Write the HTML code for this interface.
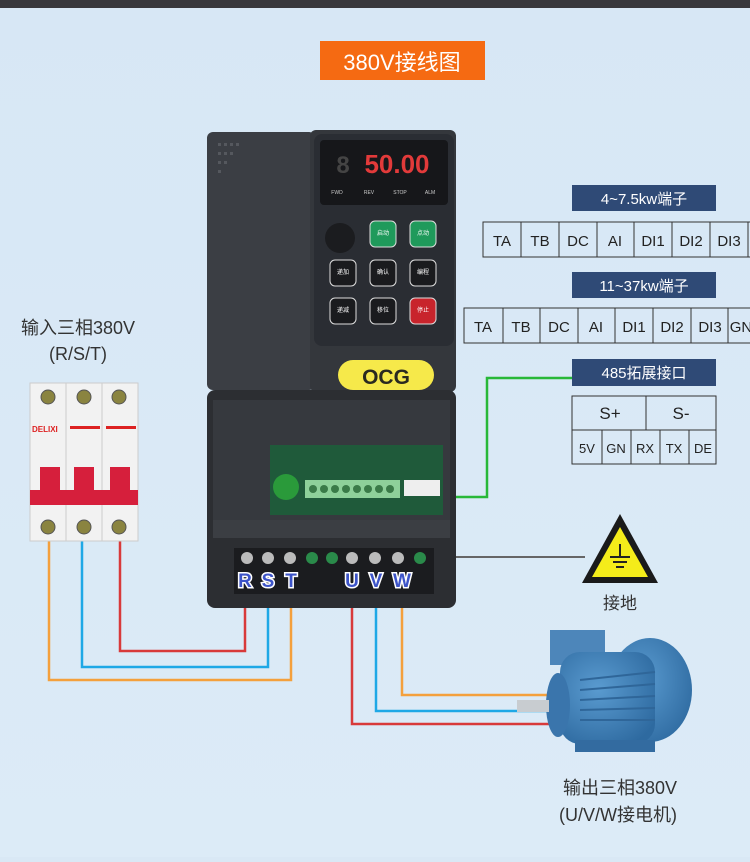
<!DOCTYPE html>
<html><head><meta charset="utf-8"><style>
html,body{margin:0;padding:0;}
body{width:750px;height:857px;background:#d9e8f5;overflow:hidden;font-family:"Liberation Sans","Noto Sans CJK SC",sans-serif;}
svg text{font-family:"Liberation Sans","Noto Sans CJK SC",sans-serif;}
</style></head><body>
<svg width="750" height="857" viewBox="0 0 750 857" xmlns="http://www.w3.org/2000/svg">
<defs>
<linearGradient id="bg" x1="0" y1="0" x2="0" y2="1"><stop offset="0" stop-color="#d7e7f5"/><stop offset="1" stop-color="#dcebf7"/></linearGradient>
<radialGradient id="mot" cx="0.4" cy="0.4" r="0.7"><stop offset="0" stop-color="#5a9bd0"/><stop offset="1" stop-color="#2e6aa0"/></radialGradient>
</defs>
<rect width="750" height="857" fill="url(#bg)"/>
<rect width="750" height="8" fill="#38383c"/>
<rect x="320" y="41" width="165" height="39" fill="#f56a12"/>
<text x="402" y="70" font-size="22" fill="#fff" text-anchor="middle">380V接线图</text>

<g fill="none" stroke-width="2.5">
<polyline points="245,585 245,651 120,651 120,540" stroke="#d83a3a"/>
<polyline points="268,585 268,667 82,667 82,540" stroke="#1ea8e6"/>
<polyline points="291,585 291,680 49,680 49,540" stroke="#f4a03c"/>
<polyline points="352,585 352,724 550,724" stroke="#d83a3a"/>
<polyline points="376,585 376,711 550,711" stroke="#1ea8e6"/>
<polyline points="402,585 402,695 550,695" stroke="#f4a03c"/>
<polyline points="425,557 585,557" stroke="#666" stroke-width="2"/>
<polyline points="440,497 487,497 487,378 572,378" stroke="#28b838"/>
</g>

<rect x="207" y="132" width="108" height="258" rx="6" fill="#3b3e44"/>
<g fill="#55585e">
<rect x="218" y="143" width="3" height="3"/><rect x="224" y="143" width="3" height="3"/><rect x="230" y="143" width="3" height="3"/><rect x="236" y="143" width="3" height="3"/>
<rect x="218" y="152" width="3" height="3"/><rect x="224" y="152" width="3" height="3"/><rect x="230" y="152" width="3" height="3"/>
<rect x="218" y="161" width="3" height="3"/><rect x="224" y="161" width="3" height="3"/><rect x="218" y="170" width="3" height="3"/>
</g>
<rect x="310" y="130" width="146" height="262" rx="6" fill="#34373c"/>
<rect x="314" y="134" width="140" height="212" rx="8" fill="#2a2d33"/>
<rect x="320" y="140" width="128" height="65" rx="4" fill="#16171a"/>
<text x="343" y="173" font-size="24" fill="#444" font-family="Liberation Mono" font-weight="bold" text-anchor="middle">8</text>
<text x="397" y="173" font-size="26" fill="#e23a3a" font-family="Liberation Mono" font-weight="bold" text-anchor="middle">50.00</text>
<g font-size="5" fill="#ccc" text-anchor="middle"><text x="337" y="194">FWD</text><text x="369" y="194">REV</text><text x="400" y="194">STOP</text><text x="430" y="194">ALM</text></g>
<circle cx="340" cy="238" r="15" fill="#1b1c1f"/>
<rect x="370" y="221" width="26" height="26" rx="5" fill="#1f9a5b" stroke="#ddd" stroke-width="1"/>
<rect x="410" y="221" width="26" height="26" rx="5" fill="#1f9a5b" stroke="#ddd" stroke-width="1"/>
<g fill="#1a1b1e" stroke="#ddd" stroke-width="1">
<rect x="330" y="260" width="26" height="26" rx="5"/><rect x="370" y="260" width="26" height="26" rx="5"/><rect x="410" y="260" width="26" height="26" rx="5"/>
<rect x="330" y="298" width="26" height="26" rx="5"/><rect x="370" y="298" width="26" height="26" rx="5"/>
</g>
<rect x="410" y="298" width="26" height="26" rx="5" fill="#c8242c" stroke="#ddd" stroke-width="1"/>
<g font-size="6" fill="#fff" text-anchor="middle">
<text x="383" y="235">启动</text><text x="423" y="235">点动</text>
<text x="343" y="274">递加</text><text x="383" y="274">确认</text><text x="423" y="274">编程</text>
<text x="343" y="312">递减</text><text x="383" y="312">移位</text><text x="423" y="312">停止</text></g>
<rect x="338" y="360" width="96" height="30" rx="15" fill="#f6e94a"/>
<text x="386" y="384" font-size="21" font-family="Liberation Serif" font-weight="bold" fill="#2a2a20" text-anchor="middle">OCG</text>
<rect x="207" y="390" width="249" height="218" rx="8" fill="#2c2e32"/>
<rect x="213" y="400" width="237" height="120" fill="#36393e"/>
<rect x="270" y="445" width="173" height="70" fill="#1f5a3a"/>
<circle cx="286" cy="487" r="13" fill="#2a9a3a"/>
<rect x="305" y="480" width="95" height="18" fill="#8ed09a"/>
<g fill="#3a7a48"><circle cx="313" cy="489" r="4"/><circle cx="324" cy="489" r="4"/><circle cx="335" cy="489" r="4"/><circle cx="346" cy="489" r="4"/><circle cx="357" cy="489" r="4"/><circle cx="368" cy="489" r="4"/><circle cx="379" cy="489" r="4"/><circle cx="390" cy="489" r="4"/></g>
<rect x="404" y="480" width="36" height="16" fill="#eee"/>
<rect x="213" y="520" width="237" height="18" fill="#3b3e43"/>
<rect x="234" y="548" width="200" height="46" fill="#1b1c1f"/>
<g fill="#bbb"><circle cx="247" cy="558" r="6"/><circle cx="268" cy="558" r="6"/><circle cx="290" cy="558" r="6"/><circle cx="352" cy="558" r="6"/><circle cx="375" cy="558" r="6"/><circle cx="398" cy="558" r="6"/></g>
<g fill="#2a8a4a"><circle cx="312" cy="558" r="6"/><circle cx="332" cy="558" r="6"/><circle cx="420" cy="558" r="6"/></g>
<g font-size="19" font-weight="bold" fill="#3d54c8" stroke="#fff" stroke-width="3" paint-order="stroke" text-anchor="middle">
<text x="245" y="587">R</text><text x="268" y="587">S</text><text x="291" y="587">T</text>
<text x="352" y="587">U</text><text x="376" y="587">V</text><text x="402" y="587">W</text></g>

<text x="78" y="334" font-size="18" fill="#333" text-anchor="middle">输入三相380V</text>
<text x="78" y="360" font-size="18" fill="#333" text-anchor="middle">(R/S/T)</text>
<rect x="30" y="383" width="108" height="158" fill="#f2f2f2" stroke="#ccc"/>
<line x1="66" y1="383" x2="66" y2="541" stroke="#ccc"/><line x1="102" y1="383" x2="102" y2="541" stroke="#ccc"/>
<g fill="#8a8440" stroke="#555"><circle cx="48" cy="397" r="7"/><circle cx="84" cy="397" r="7"/><circle cx="119" cy="397" r="7"/><circle cx="48" cy="527" r="7"/><circle cx="84" cy="527" r="7"/><circle cx="119" cy="527" r="7"/></g>
<text x="32" y="432" font-size="8" font-weight="bold" fill="#d22">DELIXI</text>
<rect x="70" y="426" width="30" height="3" fill="#d22"/><rect x="106" y="426" width="30" height="3" fill="#d22"/>
<g fill="#d61f3c"><rect x="40" y="467" width="20" height="28"/><rect x="74" y="467" width="20" height="28"/><rect x="110" y="467" width="20" height="28"/><rect x="30" y="490" width="108" height="15"/></g>

<g font-size="15" fill="#222" text-anchor="middle">
<rect x="572" y="185" width="144" height="26" fill="#2f4a76"/>
<text x="644" y="204" fill="#fff">4~7.5kw端子</text>
<g fill="none" stroke="#333" stroke-width="1"><rect x="483" y="222" width="280" height="35"/>
<line x1="521" y1="222" x2="521" y2="257"/><line x1="559" y1="222" x2="559" y2="257"/><line x1="597" y1="222" x2="597" y2="257"/><line x1="634" y1="222" x2="634" y2="257"/><line x1="672" y1="222" x2="672" y2="257"/><line x1="710" y1="222" x2="710" y2="257"/><line x1="748" y1="222" x2="748" y2="257"/></g>
<text x="502" y="246">TA</text><text x="540" y="246">TB</text><text x="578" y="246">DC</text><text x="615" y="246">AI</text><text x="653" y="246">DI1</text><text x="691" y="246">DI2</text><text x="729" y="246">DI3</text>
<rect x="572" y="272" width="144" height="26" fill="#2f4a76"/>
<text x="644" y="291" fill="#fff">11~37kw端子</text>
<g fill="none" stroke="#333"><rect x="464" y="308" width="300" height="35"/>
<line x1="503" y1="308" x2="503" y2="343"/><line x1="540" y1="308" x2="540" y2="343"/><line x1="578" y1="308" x2="578" y2="343"/><line x1="615" y1="308" x2="615" y2="343"/><line x1="653" y1="308" x2="653" y2="343"/><line x1="691" y1="308" x2="691" y2="343"/><line x1="728" y1="308" x2="728" y2="343"/></g>
<text x="483" y="332">TA</text><text x="521" y="332">TB</text><text x="559" y="332">DC</text><text x="596" y="332">AI</text><text x="634" y="332">DI1</text><text x="672" y="332">DI2</text><text x="710" y="332">DI3</text><text x="741" y="332">GN</text>
<rect x="572" y="359" width="144" height="27" fill="#2f4a76"/>
<text x="644" y="378" fill="#fff">485拓展接口</text>
<g fill="none" stroke="#333"><rect x="572" y="396" width="144" height="68"/><line x1="572" y1="430" x2="716" y2="430"/><line x1="646" y1="396" x2="646" y2="430"/>
<line x1="602" y1="430" x2="602" y2="464"/><line x1="631" y1="430" x2="631" y2="464"/><line x1="660" y1="430" x2="660" y2="464"/><line x1="689" y1="430" x2="689" y2="464"/></g>
<text x="610" y="419" font-size="17">S+</text><text x="681" y="419" font-size="17">S-</text>
<g font-size="13"><text x="587" y="453">5V</text><text x="616" y="453">GN</text><text x="645" y="453">RX</text><text x="674" y="453">TX</text><text x="703" y="453">DE</text></g>
</g>

<polygon points="620,514 582,583 658,583" fill="#1a1a1a"/>
<polygon points="620,527 592,577 648,577" fill="#f4ec1a"/>
<g stroke="#222" stroke-width="2"><line x1="620" y1="544" x2="620" y2="556"/><line x1="610" y1="557" x2="630" y2="557"/><line x1="613" y1="562" x2="627" y2="562"/><line x1="616" y1="567" x2="624" y2="567"/></g>
<text x="620" y="609" font-size="17" fill="#333" text-anchor="middle">接地</text>

<rect x="550" y="630" width="55" height="35" fill="#4d86ba"/>
<ellipse cx="650" cy="690" rx="42" ry="52" fill="url(#mot)"/>
<rect x="560" y="652" width="95" height="92" rx="20" fill="url(#mot)"/>
<g stroke="#2f6699" stroke-width="2"><line x1="580" y1="680" x2="655" y2="672"/><line x1="580" y1="690" x2="655" y2="684"/><line x1="580" y1="700" x2="655" y2="696"/><line x1="580" y1="710" x2="655" y2="708"/><line x1="580" y1="720" x2="655" y2="720"/></g>
<ellipse cx="558" cy="705" rx="12" ry="32" fill="#3a75ac"/>
<rect x="517" y="700" width="32" height="12" fill="#c8ccd0"/>
<rect x="575" y="740" width="80" height="12" fill="#336ba0"/>
<text x="620" y="794" font-size="18" fill="#333" text-anchor="middle">输出三相380V</text>
<text x="618" y="821" font-size="18" fill="#333" text-anchor="middle">(U/V/W接电机)</text>
</svg>
</body></html>
